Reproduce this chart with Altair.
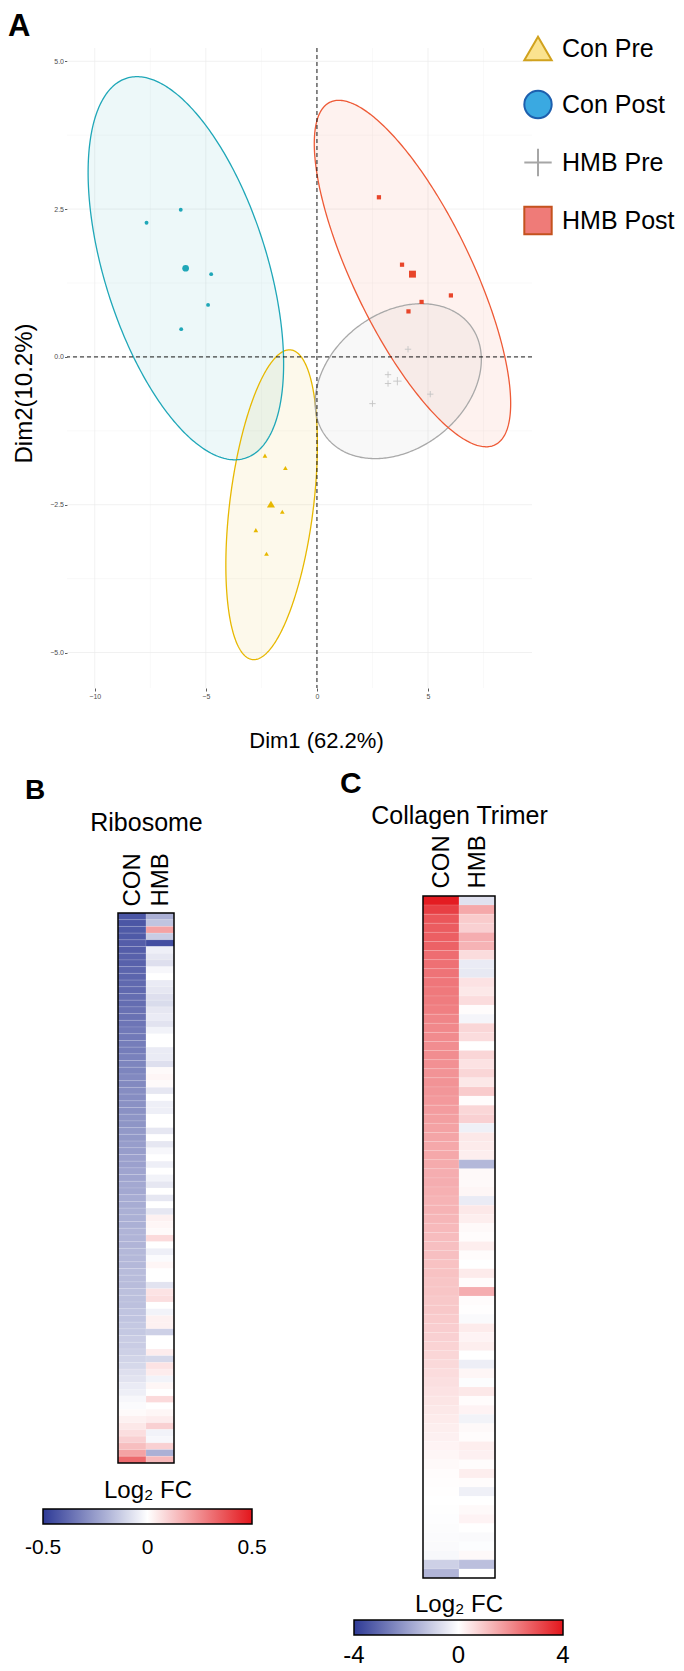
import altair as alt
import numpy as np
import pandas as pd

FONT = "Liberation Sans"

# ---------------- Panel A data (PCA) ----------------
GROUPS = ["Con Pre", "Con Post", "HMB Pre", "HMB Post"]
LINE_COLORS = ["#E7B800", "#1FA7B8", "#A9A9A9", "#EE5A36"]
POINT_COLORS = ["#E7B800", "#1FA7B8", "#C4C4C4", "#E8452A"]
LEGEND_FILL = ["#FBE38F", "#3AA9E1", "#A6A6A6", "#EF7B78"]
LEGEND_STROKE = ["#D1A21E", "#1D5FAE", "#A6A6A6", "#C4521E"]
PLUS = "M-1,0L1,0M0,-1L0,1"
SHAPES = ["triangle-up", "circle", PLUS, "square"]
SAMPLE_SIZE = [22, 15, 40, 18]
MEAN_SIZE = [65, 45, 70, 48]

CON_PRE_X = [-2.34, -1.42, -1.56, -2.75, -2.27]
CON_PRE_Y = [-1.67, -1.88, -2.62, -2.93, -3.33]
CON_POST_X = [-7.67, -6.13, -4.76, -4.90, -6.11]
CON_POST_Y = [2.27, 2.49, 1.40, 0.88, 0.47]
HMB_PRE_X = [4.10, 3.20, 3.20, 5.10, 2.50]
HMB_PRE_Y = [0.13, -0.30, -0.45, -0.63, -0.79]
HMB_POST_X = [2.79, 3.83, 4.71, 6.03, 4.12]
HMB_POST_Y = [2.70, 1.56, 0.93, 1.04, 0.77]

MEAN_X = [-2.07, -5.91, 3.62, 4.30]
MEAN_Y = [-2.49, 1.50, -0.41, 1.40]

# confidence ellipses: centre, half extent along x / y, correlation
ELL_CX = [-2.04, -5.90, 3.66, 4.30]
ELL_CY = [-2.50, 1.50, -0.41, 1.41]
ELL_RX = [2.06, 4.40, 3.74, 4.42]
ELL_RY = [2.62, 3.24, 1.31, 2.93]
ELL_RHO = [0.39, -0.50, 0.28, -0.75]

X_TICKS = [-10, -5, 0, 5]
Y_TICKS = [-5.0, -2.5, 0.0, 2.5, 5.0]
X_MINOR = [-7.5, -2.5, 2.5, 7.5]
Y_MINOR = [-3.75, -1.25, 1.25, 3.75]
X_DOMAIN = [-11.25, 9.68]
Y_DOMAIN = [-5.6, 5.225]

# ---------------- Panel B / C data (heatmaps) ----------------
RIBO_CON = [-0.43, -0.43, -0.42, -0.42, -0.41, -0.41, -0.40, -0.40, -0.39, -0.39,
            -0.38, -0.38, -0.37, -0.37, -0.36, -0.36, -0.35, -0.34, -0.34, -0.33,
            -0.33, -0.32, -0.31, -0.31, -0.30, -0.30, -0.29, -0.29, -0.28, -0.28,
            -0.27, -0.27, -0.26, -0.26, -0.25, -0.25, -0.24, -0.24, -0.23, -0.23,
            -0.22, -0.22, -0.21, -0.21, -0.20, -0.20, -0.20, -0.19, -0.19, -0.19,
            -0.18, -0.18, -0.18, -0.17, -0.17, -0.17, -0.16, -0.16, -0.16, -0.15,
            -0.15, -0.14, -0.14, -0.13, -0.13, -0.12, -0.11, -0.10, -0.08, -0.07,
            -0.05, -0.04, -0.02, -0.01, 0.01, 0.03, 0.05, 0.07, 0.10, 0.14, 0.20, 0.32]
RIBO_HMB = [-0.20, -0.15, 0.20, -0.13, -0.45, -0.04, -0.06, -0.08, -0.02, 0.00,
            -0.05, -0.06, -0.08, -0.09, -0.06, -0.05, -0.07, -0.03, 0.00, 0.00,
            -0.05, -0.05, -0.08, 0.01, 0.02, 0.01, -0.06, 0.00, -0.04, -0.04,
            0.00, 0.00, -0.06, 0.00, -0.06, -0.02, 0.00, -0.04, 0.00, -0.03,
            -0.06, 0.00, -0.06, 0.00, -0.06, 0.03, 0.02, 0.01, 0.08, 0.00,
            -0.04, -0.01, 0.02, 0.00, 0.00, -0.07, 0.06, 0.07, 0.00, -0.03,
            0.03, 0.03, -0.12, 0.00, 0.00, 0.04, -0.10, 0.06, 0.04, -0.03,
            0.02, 0.00, 0.08, 0.00, 0.02, 0.04, 0.10, -0.03, -0.02, 0.10,
            -0.20, 0.15]

COLL_CON = [3.9, 3.3, 2.9, 2.8, 2.75, 2.7, 2.5, 2.45, 2.4, 2.35,
            2.3, 2.25, 2.2, 2.1, 2.05, 2.0, 1.95, 1.95, 1.9, 1.85,
            1.85, 1.8, 1.75, 1.7, 1.65, 1.6, 1.55, 1.5, 1.5, 1.45,
            1.4, 1.4, 1.35, 1.3, 1.3, 1.25, 1.2, 1.15, 1.1, 1.1,
            1.05, 1.05, 1.0, 1.0, 0.95, 0.95, 0.9, 0.85, 0.8, 0.75,
            0.7, 0.65, 0.6, 0.55, 0.5, 0.45, 0.4, 0.35, 0.3, 0.25,
            0.2, 0.15, 0.1, 0.06, 0.04, 0.02, 0.0, -0.02, -0.04, -0.06,
            -0.08, -0.1, -0.15, -0.95, -1.5]
COLL_HMB = [-0.6, 1.5, 0.9, 0.8, 1.4, 1.3, 0.6, -0.4, -0.45, 0.5,
            0.4, 0.6, 0.05, -0.2, 0.7, 0.6, 0.0, 0.7, 0.5, 0.7,
            0.4, 0.9, 0.05, 0.7, 0.8, -0.3, 0.4, 0.35, 0.3, -1.45,
            0.1, 0.1, 0.15, -0.4, 0.4, 0.3, 0.1, 0.05, 0.3, 0.05,
            0.0, 0.35, 0.05, 1.4, 0.05, 0.02, -0.1, 0.35, 0.2, 0.3,
            0.0, -0.35, 0.15, -0.05, 0.4, 0.05, 0.2, -0.25, 0.1, 0.05,
            0.3, 0.25, 0.05, 0.3, 0.05, -0.3, 0.0, 0.1, 0.2, 0.0,
            -0.1, -0.05, 0.1, -1.3, 0.0]

COLUMNS = ["CON", "HMB"]
HEAT_COLORS = ["#2E3A96", "#FFFFFF", "#E3161C"]
RIBO_TICKS = [-0.5, 0, 0.5]
COLL_TICKS = [-4, 0, 4]

# =====================================================================
# Panel A
# =====================================================================
xs = alt.Scale(domain=X_DOMAIN, nice=False, zero=False)
ys = alt.Scale(domain=Y_DOMAIN, nice=False, zero=False)
AX_X = alt.Axis(values=X_TICKS, format="d", grid=False, domain=False, ticks=True,
                tickSize=3, tickColor="#333333", tickWidth=0.8,
                labelFontSize=7, labelColor="#4D4D4D", labelPadding=1,
                title="Dim1 (62.2%)", titleFontSize=22, titleFontWeight="normal",
                titleColor="black", titleX=249, titleY=59,
                titleBaseline="alphabetic", titleAlign="center")
AX_Y = alt.Axis(values=Y_TICKS, format=".1f", grid=False, domain=False, ticks=True,
                tickSize=2.5, tickColor="#333333", tickWidth=0.8,
                labelFontSize=7, labelColor="#4D4D4D", labelPadding=1,
                title="Dim2(10.2%)", titleFontSize=24, titleFontWeight="normal",
                titleColor="black", titleX=-36, titleY=345, titleAngle=270,
                titleBaseline="alphabetic", titleAlign="center")


def X(field="x"):
    return alt.X(f"{field}:Q", scale=xs, axis=AX_X)


def Y(field="y"):
    return alt.Y(f"{field}:Q", scale=ys, axis=AX_Y)


grid_x_major = alt.Chart(pd.DataFrame({"x": X_TICKS})).mark_rule(
    color="#EBEBEB", strokeWidth=0.7).encode(x=X())
grid_x_minor = alt.Chart(pd.DataFrame({"x": X_MINOR})).mark_rule(
    color="#F2F2F2", strokeWidth=0.5).encode(x=X())
grid_y_major = alt.Chart(pd.DataFrame({"y": Y_TICKS})).mark_rule(
    color="#EBEBEB", strokeWidth=0.7).encode(y=Y())
grid_y_minor = alt.Chart(pd.DataFrame({"y": Y_MINOR})).mark_rule(
    color="#F2F2F2", strokeWidth=0.5).encode(y=Y())

# ellipse geometry from parameters
area_rows, line_rows = [], []
t_half = np.linspace(0.0, np.pi, 181)
t_full = np.linspace(0.0, 2 * np.pi, 361)
for g, cx, cy, rx, ry, rho in zip(GROUPS, ELL_CX, ELL_CY, ELL_RX, ELL_RY, ELL_RHO):
    s = np.sqrt(1 - rho ** 2)
    for t in t_half:
        c, sn = np.cos(t), np.sin(t)
        area_rows.append({"group": g, "x": cx + rx * c,
                          "ylo": cy + ry * (rho * c - s * sn),
                          "yhi": cy + ry * (rho * c + s * sn)})
    for i, t in enumerate(t_full):
        line_rows.append({"group": g, "order": i, "x": cx + rx * np.cos(t),
                          "y": cy + ry * (rho * np.cos(t) + s * np.sin(t))})
area_df = pd.DataFrame(area_rows)
line_df = pd.DataFrame(line_rows)
ell_color = alt.Color("group:N", scale=alt.Scale(domain=GROUPS, range=LINE_COLORS), legend=None)

ell_fill = alt.Chart(area_df).mark_area(fillOpacity=0.08).encode(
    x=X(), y=Y("ylo"), y2="yhi:Q", color=ell_color, detail="group:N")
ell_line = alt.Chart(line_df).mark_line(strokeWidth=1.3).encode(
    x=X(), y=Y(), order="order:Q", color=ell_color, detail="group:N")

vline = alt.Chart(pd.DataFrame({"x": [0.0]})).mark_rule(
    color="black", strokeDash=[4, 3], strokeWidth=0.9).encode(x=X())
hline = alt.Chart(pd.DataFrame({"y": [0.0]})).mark_rule(
    color="black", strokeDash=[4, 3], strokeWidth=0.9).encode(y=Y())

SAMPLE_X = [CON_PRE_X, CON_POST_X, HMB_PRE_X, HMB_POST_X]
SAMPLE_Y = [CON_PRE_Y, CON_POST_Y, HMB_PRE_Y, HMB_POST_Y]
point_layers = []
for i, g in enumerate(GROUPS):
    filled = SHAPES[i] != PLUS
    kw = dict(shape=SHAPES[i], filled=filled, color=POINT_COLORS[i], opacity=1)
    if not filled:
        kw["strokeWidth"] = 0.9
    sdf = pd.DataFrame({"x": SAMPLE_X[i], "y": SAMPLE_Y[i]})
    mdf = pd.DataFrame({"x": [MEAN_X[i]], "y": [MEAN_Y[i]]})
    point_layers.append(alt.Chart(sdf).mark_point(size=SAMPLE_SIZE[i], **kw).encode(x=X(), y=Y()))
    point_layers.append(alt.Chart(mdf).mark_point(size=MEAN_SIZE[i], **kw).encode(x=X(), y=Y()))

LEG_A = alt.Legend(title=None, orient="none", legendX=456, legendY=-14.5,
                   symbolSize=750, symbolStrokeWidth=2, labelFontSize=25,
                   labelColor="black", labelOffset=9, rowPadding=22, padding=0,
                   labelLimit=0)
leg_df = pd.DataFrame({"group": GROUPS, "x": MEAN_X, "y": MEAN_Y})
legend_layer = alt.Chart(leg_df).mark_point(size=0, strokeWidth=2, opacity=1).encode(
    x=X(), y=Y(),
    shape=alt.Shape("group:N", scale=alt.Scale(domain=GROUPS, range=SHAPES), legend=LEG_A),
    fill=alt.Fill("group:N", scale=alt.Scale(domain=GROUPS, range=LEGEND_FILL), legend=LEG_A),
    stroke=alt.Stroke("group:N", scale=alt.Scale(domain=GROUPS, range=LEGEND_STROKE), legend=LEG_A),
)

letter_A = alt.Chart(pd.DataFrame({"t": ["A"]})).mark_text(
    fontSize=31, fontWeight="bold", align="left", baseline="alphabetic", color="black"
).encode(text="t:N", x=alt.value(-59), y=alt.value(-12))

chart_A = alt.layer(grid_x_minor, grid_y_minor, grid_x_major, grid_y_major,
                    ell_fill, ell_line, vline, hline, *point_layers,
                    legend_layer, letter_A).properties(width=465, height=640)


# =====================================================================
# Panels B and C
# =====================================================================
def heat_panel(con_vals, hmb_vals, title, title_pad, label_pad, ticks,
               letter, letter_size, letter_x, letter_y,
               leg_x, leg_y, leg_title_pad, label_size, label_y,
               width, height, x_range, y_range):
    n = len(con_vals)
    recs = []
    for j, vals in enumerate([con_vals, hmb_vals]):
        for r, v in enumerate(vals):
            recs.append({"x0": j, "x1": j + 1, "y0": r, "y1": r + 1, "value": v})
    df = pd.DataFrame(recs)
    ncol = len(COLUMNS)
    xsc = alt.Scale(domain=[0, ncol], range=x_range, nice=False, zero=False)
    ysc = alt.Scale(domain=[0, n], range=y_range, nice=False, zero=False)
    col_expr = "[" + ",".join(f"'{c}'" for c in COLUMNS) + "][floor(datum.value)]"
    xax = alt.Axis(orient="top", values=[j + 0.5 for j in range(ncol)], labelExpr=col_expr,
                   labelAngle=-90, labelFontSize=24, labelColor="black",
                   labelPadding=label_pad, labelFlush=False, labelOverlap=False,
                   ticks=False, domain=False, grid=False, offset=-y_range[0],
                   title=title, titleFontSize=25, titleFontWeight="normal",
                   titleColor="black", titlePadding=title_pad)
    heat = alt.Chart(df).mark_rect(stroke="white", strokeWidth=0.4, strokeOpacity=0.3).encode(
        x=alt.X("x0:Q", scale=xsc, axis=xax), x2="x1:Q",
        y=alt.Y("y0:Q", scale=ysc, axis=None), y2="y1:Q",
        color=alt.Color("value:Q",
                        scale=alt.Scale(domain=ticks, range=HEAT_COLORS, interpolate="rgb"),
                        legend=alt.Legend(orient="none", direction="horizontal",
                                          legendX=leg_x, legendY=leg_y,
                                          gradientLength=209, gradientThickness=15,
                                          gradientStrokeColor="black", gradientStrokeWidth=1.5,
                                          title="Log\u2082 FC", titleFontSize=24,
                                          titleFontWeight="normal", titleColor="black",
                                          titleAnchor="middle", titlePadding=leg_title_pad,
                                          values=ticks, labelExpr="''",
                                          labelOverlap=False, padding=0)),
    )
    border_df = pd.DataFrame({"x0": [0], "x1": [ncol], "y0": [0], "y1": [n]})
    border = alt.Chart(border_df).mark_rect(fillOpacity=0, stroke="black", strokeWidth=1.5).encode(
        x=alt.X("x0:Q", scale=xsc, axis=None), x2="x1:Q",
        y=alt.Y("y0:Q", scale=ysc, axis=None), y2="y1:Q")
    # colour-bar tick labels, centred on their values along the bar
    tick_df = pd.DataFrame({"v": ticks, "lab": [f"{t:g}" for t in ticks]})
    tick_labels = alt.Chart(tick_df).mark_text(
        fontSize=label_size, align="center", baseline="alphabetic", color="black"
    ).encode(
        x=alt.X("v:Q", scale=alt.Scale(domain=[ticks[0], ticks[-1]],
                                       range=[leg_x, leg_x + 209], nice=False, zero=False),
                axis=None),
        y=alt.value(label_y), text="lab:N")
    let = alt.Chart(pd.DataFrame({"t": [letter]})).mark_text(
        fontSize=letter_size, fontWeight="bold", align="left", baseline="alphabetic",
        color="black").encode(text="t:N", x=alt.value(letter_x), y=alt.value(letter_y))
    return alt.layer(heat, border, tick_labels, let).resolve_scale(x="independent").properties(
        width=width, height=height)


# B: plot origin shares x with panel A and y with panel C; the heatmap is placed by its scale ranges
chart_B = heat_panel(RIBO_CON, RIBO_HMB, "Ribosome", 17, 7, RIBO_TICKS,
                     "B", 28, -42, -97, -24, 583, 6, 21, 658,
                     107, 567, [51, 107], [17, 567])
chart_C = heat_panel(COLL_CON, COLL_HMB, "Collagen Trimer", 6, 8, COLL_TICKS,
                     "C", 30, -83, -103, -69, 697, 3, 24, 767,
                     72, 682, [0, 72], [0, 682])

row2 = alt.hconcat(chart_B, chart_C, spacing=73).resolve_scale(
    x="independent", y="independent", color="independent").resolve_legend(color="independent")
chart = alt.vconcat(chart_A, row2, spacing=18).resolve_scale(
    x="independent", y="independent", color="independent").resolve_legend(
    color="independent").properties(
    padding={"top": 3, "left": 0, "right": 0, "bottom": 0}).configure(
    font=FONT).configure_view(stroke=None)

chart.save("out.html", embed_options={"renderer": "svg", "actions": False})
